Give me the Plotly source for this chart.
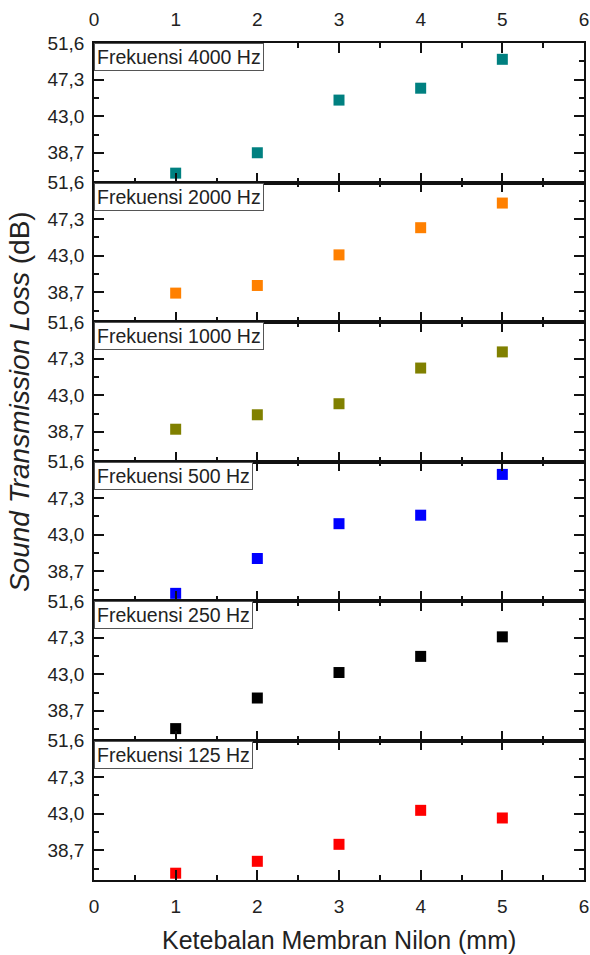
import plotly.graph_objects as go
from plotly.subplots import make_subplots

# ---- data ----
thickness = [1, 2, 3, 4, 5]
panel_labels = ["Frekuensi 4000 Hz", "Frekuensi 2000 Hz", "Frekuensi 1000 Hz",
                "Frekuensi 500 Hz", "Frekuensi 250 Hz", "Frekuensi 125 Hz"]
stl_4000 = [36.3, 38.7, 44.9, 46.3, 49.7]
stl_2000 = [38.6, 39.5, 43.1, 46.3, 49.2]
stl_1000 = [39.0, 40.7, 42.0, 46.2, 48.1]
stl_500 = [36.1, 40.2, 44.3, 45.3, 50.1]
stl_250 = [36.6, 40.2, 43.2, 45.1, 47.4]
stl_125 = [36.0, 37.4, 39.4, 43.4, 42.5]
colors = ["#008080", "#FF8000", "#808000", "#0000FF", "#000000", "#FF0000"]

y_tickvals = [38.7, 43.0, 47.3, 51.6]
y_ticktext = ["38,7", "43,0", "47,3", "51,6"]
y_minor = [36.55, 40.85, 45.15, 49.45]
x_tickvals = [0, 1, 2, 3, 4, 5, 6]
x_ticktext = ["0", "1", "2", "3", "4", "5", "6"]
x_minor = [0.5, 1.5, 2.5, 3.5, 4.5, 5.5]

series = [stl_4000, stl_2000, stl_1000, stl_500, stl_250, stl_125]

FONT = "Liberation Sans, Arial, sans-serif"
TXT = "#222222"
AX = "#111111"

fig = make_subplots(rows=6, cols=1, shared_xaxes=True, vertical_spacing=0)

for i, (vals, col) in enumerate(zip(series, colors)):
    fig.add_trace(go.Scatter(x=thickness, y=vals, mode="markers",
                             marker=dict(symbol="square", size=11, color=col),
                             showlegend=False, cliponaxis=False), row=i + 1, col=1)
    sfx = str(i + 1) if i else ""
    fig.add_annotation(text=panel_labels[i], xref=f"x{sfx} domain",
                       yref=f"y{sfx} domain", x=0, y=1,
                       xanchor="left", yanchor="top", showarrow=False,
                       font=dict(family=FONT, size=19.5, color=TXT),
                       bgcolor="white", bordercolor="#555555", borderwidth=1,
                       borderpad=2)

for i in range(6):
    fig.update_yaxes(range=[35.2, 51.62], tickmode="array", tickvals=y_tickvals,
                     ticktext=y_ticktext, ticks="inside", ticklen=10, tickwidth=1.5,
                     tickcolor=AX, showline=True, linewidth=1.5, linecolor=AX,
                     mirror="ticks", showgrid=False, zeroline=False, automargin=False,
                     tickfont=dict(family=FONT, size=19, color=TXT),
                     ticklabelstandoff=4,
                     minor=dict(tickvals=y_minor, ticks="inside", ticklen=5,
                                tickwidth=1.5, tickcolor=AX),
                     row=i + 1, col=1)
    fig.update_xaxes(range=[0, 6], tickmode="array", tickvals=x_tickvals,
                     ticktext=x_ticktext, ticks="inside", ticklen=10, tickwidth=1.5,
                     tickcolor=AX, showline=True, linewidth=1.5, linecolor=AX,
                     mirror="ticks", showgrid=False, zeroline=False, automargin=False,
                     showticklabels=(i == 5),
                     tickfont=dict(family=FONT, size=19, color=TXT),
                     ticklabelstandoff=8,
                     minor=dict(tickvals=x_minor, ticks="inside",
                                ticklen=5, tickwidth=1.5, tickcolor=AX),
                     row=i + 1, col=1)

fig.update_layout(xaxis=dict(side="top", showticklabels=True))

fig.add_annotation(text="<i>Sound Transmission Loss</i> (dB)", xref="paper", yref="paper",
                   x=-0.153, y=0.571, textangle=-90, showarrow=False,
                   xanchor="center", yanchor="middle",
                   font=dict(family=FONT, size=28, color=TXT))
fig.add_annotation(text="Ketebalan Membran Nilon (mm)", xref="paper", yref="paper",
                   x=0.5, y=-0.072, showarrow=False, xanchor="center", yanchor="middle",
                   font=dict(family=FONT, size=25, color=TXT))

fig.update_layout(width=590, height=955, margin=dict(l=94, r=6, t=43, b=75, autoexpand=False),
                  plot_bgcolor="white", paper_bgcolor="white")

fig.write_html("out.html", config={"displayModeBar": False},
               post_script="document.body.style.margin='0';")
